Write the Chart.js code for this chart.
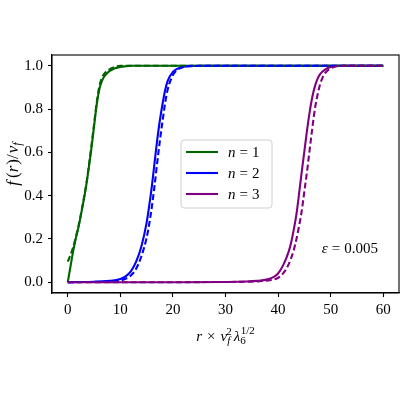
<!DOCTYPE html>
<html><head><meta charset="utf-8">
<script src="https://cdn.jsdelivr.net/npm/chart.js@4.4.0/dist/chart.umd.min.js"></script>
<style>html,body{margin:0;padding:0;background:#fff}canvas{display:block}</style>
</head><body>
<canvas id="c" width="400" height="400"></canvas>
<script>
const seriesLabels = ['n = 1', 'n = 2', 'n = 3'];
const seriesColors = ['#006400', '#0000ff', '#800080'];
const xTicks = [0, 10, 20, 30, 40, 50, 60];
const yTicks = [0, 0.2, 0.4, 0.6, 0.8, 1.0];
const epsilonLabel = 'ε = 0.005';

// n = 1
const n1SolidX = [0, 0.5, 1, 1.5, 2, 2.5, 3, 3.5, 4, 4.5, 5, 5.5, 6, 6.5, 7, 7.5, 8, 9, 10, 11, 12, 14, 20, 30, 40, 50, 60];
const n1SolidY = [0, 0.07, 0.14, 0.2, 0.25, 0.31, 0.375, 0.445, 0.53, 0.62, 0.72, 0.82, 0.89, 0.93, 0.953, 0.967, 0.977, 0.989, 0.995, 0.998, 1, 1, 1, 1, 1, 1, 1];
const n1DashX = [0, 0.5, 1, 1.5, 2, 2.5, 3, 3.5, 4, 4.5, 5, 5.5, 6, 6.5, 7, 8, 9, 10, 14, 20, 30, 40, 50, 60];
const n1DashY = [0.095, 0.125, 0.16, 0.205, 0.255, 0.315, 0.38, 0.45, 0.535, 0.63, 0.73, 0.83, 0.905, 0.945, 0.965, 0.985, 0.995, 1, 1, 1, 1, 1, 1, 1];

// n = 2
const n2SolidX = [0, 2, 4, 6, 8, 10, 11, 12, 13, 14, 15, 15.5, 16, 16.5, 17, 17.5, 18, 18.5, 19, 20, 21, 22, 24, 26, 30, 40, 50, 60];
const n2SolidY = [0, 0.0005, 0.001, 0.003, 0.006, 0.015, 0.027, 0.05, 0.095, 0.165, 0.275, 0.355, 0.445, 0.55, 0.655, 0.745, 0.82, 0.885, 0.93, 0.972, 0.988, 0.996, 0.999, 1, 1, 1, 1, 1];
const n2DashX = [0, 4, 8, 10, 11, 12, 13, 14, 15, 15.5, 16, 16.5, 17, 17.5, 18, 18.5, 19, 19.5, 20, 21, 22, 24, 30, 40, 50, 60];
const n2DashY = [0, 0.001, 0.003, 0.008, 0.016, 0.031, 0.062, 0.12, 0.205, 0.27, 0.35, 0.445, 0.55, 0.65, 0.74, 0.825, 0.89, 0.93, 0.958, 0.984, 0.995, 1, 1, 1, 1, 1];

// n = 3
const n3SolidX = [0, 10, 20, 30, 34, 36, 38, 39, 40, 41, 42, 42.5, 43, 43.5, 44, 44.5, 45, 45.5, 46, 46.5, 47, 47.5, 48, 49, 50, 52, 55, 60];
const n3SolidY = [0, 0, 0, 0.001, 0.003, 0.006, 0.013, 0.022, 0.04, 0.08, 0.14, 0.185, 0.245, 0.315, 0.41, 0.51, 0.605, 0.7, 0.785, 0.855, 0.905, 0.94, 0.962, 0.984, 0.995, 1, 1, 1];
const n3DashX = [0, 10, 20, 30, 34, 38, 40, 41, 42, 43, 43.5, 44, 44.5, 45, 45.5, 46, 46.5, 47, 47.5, 48, 48.5, 49, 50, 51, 53, 60];
const n3DashY = [0, 0, 0, 0.001, 0.002, 0.008, 0.02, 0.042, 0.082, 0.15, 0.2, 0.26, 0.33, 0.42, 0.51, 0.61, 0.71, 0.8, 0.865, 0.915, 0.948, 0.968, 0.988, 0.997, 1, 1];

const pts = (xs, ys) => xs.map((x, i) => ({x: x, y: ys[i]}));

function ds(xs, ys, color, dashed, order) {
  return {
    data: pts(xs, ys), borderColor: color, backgroundColor: color,
    borderWidth: 2.1, borderDash: dashed ? [6, 3] : [], pointRadius: 0,
    showLine: true, fill: false, cubicInterpolationMode: 'monotone', order: order
  };
}

const datasets = [
  ds(n1SolidX, n1SolidY, seriesColors[0], false, 6),
  ds(n2SolidX, n2SolidY, seriesColors[1], false, 5),
  ds(n3SolidX, n3SolidY, seriesColors[2], false, 4),
  ds(n1DashX, n1DashY, seriesColors[0], true, 3),
  ds(n2DashX, n2DashY, seriesColors[1], true, 2),
  ds(n3DashX, n3DashY, seriesColors[2], true, 1)
];

const SERIF = '"Liberation Serif", "DejaVu Serif", serif';

function runWidth(ctx, runs) {
  let w = 0;
  runs.forEach(r => { ctx.font = (r.italic ? 'italic ' : '') + r.size + 'px ' + SERIF; w += ctx.measureText(r.t).width + (r.gap || 0); });
  return w;
}
function drawRuns(ctx, runs, x, y) {
  let cx = x;
  runs.forEach(r => {
    ctx.font = (r.italic ? 'italic ' : '') + r.size + 'px ' + SERIF;
    ctx.fillText(r.t, cx, y + (r.dy || 0));
    cx += ctx.measureText(r.t).width + (r.gap || 0);
  });
}

const decor = {
  id: 'decor',
  afterDatasetsDraw(chart) {
    const ctx = chart.ctx, a = chart.chartArea;
    const xs = chart.scales.x, ys = chart.scales.y;
    ctx.save();
    ctx.strokeStyle = '#000'; ctx.lineWidth = 1.1;
    ctx.strokeRect(a.left, a.top, a.right - a.left, a.bottom - a.top);
    ctx.fillStyle = '#000'; ctx.textBaseline = 'alphabetic'; ctx.textAlign = 'left';

    // epsilon annotation
    const ep = epsilonLabel.split(' = ');
    const eps = [{t: ep[0], italic: true, size: 15, gap: 4}, {t: '=', size: 15, gap: 4}, {t: ep[1], size: 15}];
    drawRuns(ctx, eps, xs.getPixelForValue(48.5) - 1, ys.getPixelForValue(0.16) + 5);

    // x axis title
    const xr = [
      {t: 'r', italic: true, size: 15, gap: 5},
      {t: '×', size: 15, gap: 5},
      {t: 'v', italic: true, size: 15},
      {t: 'f', italic: true, size: 11, dy: 3, gap: -4},
      {t: '2', size: 11, dy: -6, gap: 2},
      {t: 'λ', italic: true, size: 15},
      {t: '6', size: 11, dy: 3, gap: -5},
      {t: '1/2', size: 11, dy: -7}
    ];
    const xw = runWidth(ctx, xr);
    drawRuns(ctx, xr, (a.left + a.right) / 2 - xw / 2, 341);

    // y axis title
    const yr = [
      {t: 'f', italic: true, size: 17, gap: 3},
      {t: '(', size: 17},
      {t: 'r', italic: true, size: 17, gap: 1},
      {t: ')', size: 17},
      {t: '/', size: 17, gap: 1},
      {t: 'v', italic: true, size: 17},
      {t: 'f', italic: true, size: 12, dy: 3}
    ];
    const yw = runWidth(ctx, yr);
    ctx.save();
    ctx.translate(18, 164);
    ctx.rotate(-Math.PI / 2);
    drawRuns(ctx, yr, -yw / 2, 0);
    ctx.restore();

    // legend
    const lx = 181, ly = 140, lw = 91, lh = 68, rad = 3;
    ctx.beginPath();
    ctx.moveTo(lx + rad, ly);
    ctx.arcTo(lx + lw, ly, lx + lw, ly + lh, rad);
    ctx.arcTo(lx + lw, ly + lh, lx, ly + lh, rad);
    ctx.arcTo(lx, ly + lh, lx, ly, rad);
    ctx.arcTo(lx, ly, lx + lw, ly, rad);
    ctx.closePath();
    ctx.fillStyle = 'rgba(255,255,255,0.8)'; ctx.fill();
    ctx.strokeStyle = '#d0d0d0'; ctx.lineWidth = 1; ctx.stroke();
    seriesLabels.forEach((lab, i) => {
      const yy = 152 + i * 21;
      ctx.strokeStyle = seriesColors[i]; ctx.lineWidth = 2.1; ctx.setLineDash([]);
      ctx.beginPath(); ctx.moveTo(186, yy); ctx.lineTo(218, yy); ctx.stroke();
      ctx.fillStyle = '#000';
      const parts = lab.split(' = ');
      drawRuns(ctx, [{t: parts[0], italic: true, size: 15, gap: 4}, {t: '=', size: 15, gap: 4}, {t: parts[1], size: 15}], 228, yy + 5);
    });
    ctx.restore();
  }
};

new Chart(document.getElementById('c'), {
  type: 'scatter',
  data: {datasets: datasets},
  options: {
    responsive: false, animation: false, devicePixelRatio: 1,
    layout: {padding: {left: 0, top: 55, right: 1, bottom: 0}},
    plugins: {legend: {display: false}, tooltip: {enabled: false}},
    scales: {
      x: {
        type: 'linear', min: -3, max: 63,
        afterBuildTicks: s => { s.ticks = xTicks.map(v => ({value: v})); },
        afterFit: s => { s.height = 107; },
        grid: {drawOnChartArea: false, tickLength: 4, tickColor: '#000', tickWidth: 1.1},
        border: {color: '#000', width: 1.1},
        ticks: {color: '#000', padding: 4, maxRotation: 0, font: {family: SERIF, size: 15}, callback: v => String(v)}
      },
      y: {
        type: 'linear', min: -0.05, max: 1.05,
        afterBuildTicks: s => { s.ticks = yTicks.map(v => ({value: v})); },
        afterFit: s => { s.width = 52; },
        grid: {drawOnChartArea: false, tickLength: 4, tickColor: '#000', tickWidth: 1.1},
        border: {color: '#000', width: 1.1},
        ticks: {color: '#000', padding: 5, font: {family: SERIF, size: 15}, callback: v => Number(v).toFixed(1)}
      }
    }
  },
  plugins: [decor]
});
</script>
</body></html>
